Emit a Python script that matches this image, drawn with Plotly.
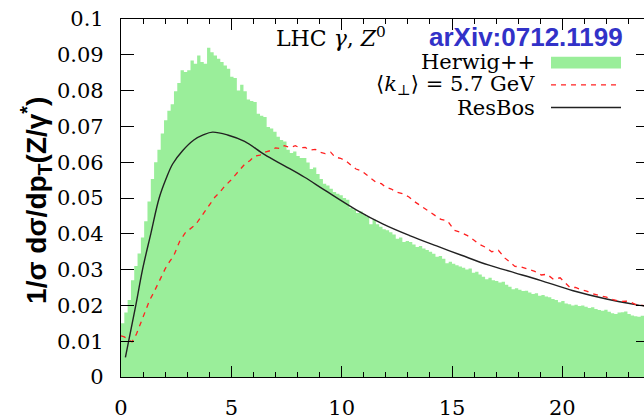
import plotly.graph_objects as go

# ---------------- data ----------------
bin_width = 0.15
herwig = [
    0.0150, 0.0180, 0.0215, 0.0270, 0.0310, 0.0345, 0.0390, 0.0435, 0.0490, 0.0553,
    0.0600, 0.0635, 0.0680, 0.0717, 0.0744, 0.0762, 0.0798, 0.0821, 0.0857, 0.0852,
    0.0857, 0.0884, 0.0875, 0.0898, 0.0880, 0.0875, 0.0920, 0.0907, 0.0898, 0.0889,
    0.0880, 0.0870, 0.0861, 0.0839, 0.0835, 0.0800, 0.0816, 0.0798, 0.0775, 0.0771,
    0.0768, 0.0735, 0.0730, 0.0726, 0.0698, 0.0694, 0.0685, 0.0671, 0.0662, 0.0658,
    0.0635, 0.0626, 0.0630, 0.0617, 0.0612, 0.0612, 0.0599, 0.0581, 0.0585, 0.0567,
    0.0553, 0.0540, 0.0535, 0.0526, 0.0517, 0.0512, 0.0508, 0.0500, 0.0495, 0.0472,
    0.0468, 0.0458, 0.0462, 0.0454, 0.0448, 0.0427, 0.0440, 0.0427, 0.0420, 0.0413,
    0.0410, 0.0404, 0.0398, 0.0386, 0.0390, 0.0377, 0.0380, 0.0377, 0.0370, 0.0363,
    0.0366, 0.0359, 0.0355, 0.0350, 0.0344, 0.0336, 0.0338, 0.0330, 0.0318, 0.0322,
    0.0316, 0.0312, 0.0309, 0.0305, 0.0300, 0.0303, 0.0291, 0.0294, 0.0286, 0.0280,
    0.0273, 0.0277, 0.0270, 0.0268, 0.0264, 0.0266, 0.0258, 0.0252, 0.0245, 0.0248,
    0.0244, 0.0240, 0.0241, 0.0236, 0.0232, 0.0234, 0.0227, 0.0229, 0.0225, 0.0223,
    0.0218, 0.0215, 0.0209, 0.0212, 0.0205, 0.0203, 0.0200, 0.0202, 0.0198, 0.0200,
    0.0196, 0.0193, 0.0195, 0.0190, 0.0187, 0.0185, 0.0188, 0.0182, 0.0178, 0.0176,
    0.0180, 0.0181, 0.0183, 0.0176, 0.0172, 0.0170, 0.0168, 0.0171, 0.0166, 0.0165,
]

kperp_x = [0.0, 0.15, 0.3, 0.5, 0.7, 0.9, 1.1, 1.3, 1.5, 1.75, 2.0, 2.2, 2.4, 2.65, 2.9,
           3.1, 3.4, 3.6, 3.8, 4.0, 4.25, 4.5, 4.7, 4.95, 5.15, 5.4, 5.6, 5.85, 6.05, 6.3,
           6.5, 6.75, 7.0, 7.2, 7.4, 7.65, 7.9, 8.1, 8.35, 8.55, 8.8, 9.0, 9.25, 9.5, 9.7,
           9.95, 10.2, 10.45, 10.65, 10.9, 11.1, 11.35, 11.55, 11.8, 12.0, 12.25, 12.5,
           12.75, 13.05, 13.3, 13.55, 13.8, 14.0, 14.25, 14.5, 14.8, 15.1, 15.35, 15.7,
           16.0, 16.2, 16.5, 16.8, 17.1, 17.4, 17.6, 17.85, 18.1, 18.3, 18.75, 19.05,
           19.3, 19.6, 19.9, 20.35, 20.6, 20.8, 21.1, 21.4, 21.7, 22.0, 22.3, 22.6, 22.9,
           23.1, 23.3, 23.55, 23.8, 24.0]
kperp_y = [0.0115, 0.0112, 0.0105, 0.0098, 0.0120, 0.0152, 0.0185, 0.0215, 0.0238, 0.0272,
           0.0302, 0.0322, 0.0340, 0.0378, 0.0402, 0.0412, 0.0427, 0.0445, 0.0463, 0.0480,
           0.0502, 0.0518, 0.0533, 0.0548, 0.0563, 0.0580, 0.0594, 0.0605, 0.0617, 0.0620,
           0.0628, 0.0632, 0.0640, 0.0638, 0.0646, 0.0641, 0.0646, 0.0640, 0.0641, 0.0634,
           0.0636, 0.0628, 0.0624, 0.0628, 0.0614, 0.0611, 0.0603, 0.0590, 0.0581, 0.0576,
           0.0566, 0.0556, 0.0544, 0.0540, 0.0530, 0.0525, 0.0516, 0.0512, 0.0503, 0.0490,
           0.0480, 0.0470, 0.0462, 0.0450, 0.0440, 0.0436, 0.0410, 0.0405, 0.0395, 0.0382,
           0.0372, 0.0363, 0.0350, 0.0354, 0.0332, 0.0322, 0.0309, 0.0308, 0.0304, 0.0295,
           0.0285, 0.0287, 0.0273, 0.0277, 0.0250, 0.0250, 0.0245, 0.0240, 0.0232, 0.0228,
           0.0223, 0.0216, 0.0211, 0.0212, 0.0209, 0.0203, 0.0200, 0.0198, 0.0197]

resbos_x = [0.2, 0.67, 0.975, 1.35, 1.73, 2.05, 2.34, 2.79, 3.3, 3.75, 4.15, 4.83, 5.6,
            6.51, 7.41, 8.32, 9.23, 10.66, 11.88, 13.08, 14.3, 15.43, 16.64, 17.85,
            19.0, 20.49, 22.0, 23.52, 24.0]
resbos_y = [0.0055, 0.0200, 0.0300, 0.0400, 0.0500, 0.0555, 0.0595, 0.0632, 0.0662,
            0.0677, 0.0684, 0.0676, 0.0658, 0.0621, 0.0590, 0.0558, 0.0522, 0.0467,
            0.0427, 0.0395, 0.0366, 0.0340, 0.0313, 0.0291, 0.0270, 0.0241, 0.0218,
            0.0200, 0.0195]

legend_labels = ["Herwig++", "⟨<i>k</i><sub>⊥</sub>⟩ = 5.7 GeV", "ResBos"]
title_text = "LHC <i>γ</i>, <i>Z</i><sup>0</sup>"
ref_text = "<b>arXiv:0712.1199</b>"
ytitle = "<b>1/σ dσ/dp<sub>T</sub>(Z/γ<sup>*</sup>)</b>"

# ---------------- figure ----------------
GREEN = "rgb(154,238,154)"
RED = "#ff2020"
BLACK = "#222222"
edges = [i * bin_width for i in range(len(herwig) + 1)]
hist_y = herwig + [herwig[-1]]

fig = go.Figure()
fig.add_trace(go.Scatter(x=edges, y=hist_y, mode="lines", line=dict(shape="hv", width=0, color=GREEN),
                         fill="tozeroy", fillcolor=GREEN, showlegend=False, hoverinfo="skip"))
fig.add_trace(go.Scatter(x=resbos_x, y=resbos_y, mode="lines",
                         line=dict(color=BLACK, width=1.4, shape="spline", smoothing=1.0),
                         showlegend=False))
fig.add_trace(go.Scatter(x=kperp_x, y=kperp_y, mode="lines",
                         line=dict(color=RED, width=1.3, dash="5px,5px"),
                         showlegend=False))
# invisible trace to activate right-hand tick axis
fig.add_trace(go.Scatter(x=[0], y=[0], yaxis="y2", mode="markers", marker=dict(opacity=0),
                         showlegend=False, hoverinfo="skip"))

serif = "DejaVu Serif"
W, H = 644, 420
L, R, T, B = 121, 0, 19, 33
pw, ph = W - L - R, H - T - B

def px2x(px):
    return (px - L) / pw

def px2y(py):
    return (H - B - py) / ph

fig.update_layout(
    width=W, height=H,
    margin=dict(l=L, r=R, t=T, b=B, pad=0),
    paper_bgcolor="white", plot_bgcolor="white",
    showlegend=False,
    font=dict(family=serif, size=21, color="black"),
)
fig.update_xaxes(range=[0, 23.7], showgrid=False, zeroline=False, showline=True,
                 linecolor="black", linewidth=1.2, mirror="ticks",
                 ticks="inside", ticklen=11, tickwidth=1.2, tickcolor="black",
                 dtick=5, tick0=0, ticklabelstandoff=12,
                 minor=dict(dtick=1, ticks="inside", ticklen=5, tickwidth=1, tickcolor="black"),
                 tickfont=dict(family=serif, size=21))
fig.update_layout(
    yaxis=dict(range=[0, 0.1], showgrid=False, zeroline=False, showline=True,
               linecolor="black", linewidth=1.2, mirror=False,
               ticks="inside", ticklen=13, tickwidth=1.2, tickcolor="black",
               dtick=0.01, tick0=0, ticklabelstandoff=12,
               tickfont=dict(family=serif, size=21)),
    yaxis2=dict(range=[0, 0.1], overlaying="y", side="right", showgrid=False,
                zeroline=False, showline=False, showticklabels=False,
                ticks="inside", ticklen=8, tickwidth=1.2, tickcolor="black",
                dtick=0.01, tick0=0),
)

ann = []
ann.append(dict(text=ytitle, xref="paper", yref="paper", x=px2x(36), y=px2y(206),
                textangle=-90, showarrow=False, xanchor="center", yanchor="middle",
                font=dict(family="Liberation Sans", size=28, color="black")))
ann.append(dict(text=title_text, xref="paper", yref="paper", x=px2x(331), y=px2y(37),
                showarrow=False, xanchor="center", yanchor="middle",
                font=dict(family=serif, size=22, color="black")))
ann.append(dict(text=ref_text, xref="paper", yref="paper", x=px2x(526), y=px2y(37),
                showarrow=False, xanchor="center", yanchor="middle",
                font=dict(family="Liberation Sans", size=26, color="rgb(50,50,200)")))
rows = [63.3, 86.7, 110]
for lab, ry in zip(legend_labels, rows):
    ann.append(dict(text=lab, xref="paper", yref="paper", x=px2x(537), y=px2y(ry),
                    showarrow=False, xanchor="right", yanchor="middle",
                    font=dict(family=serif, size=21, color="black")))
fig.update_layout(annotations=ann)

shapes = [
    dict(type="rect", xref="paper", yref="paper", x0=px2x(551), x1=px2x(621),
         y0=px2y(70), y1=px2y(57.7), fillcolor=GREEN, line=dict(width=0)),
    dict(type="line", xref="paper", yref="paper", x0=px2x(551), x1=px2x(621),
         y0=px2y(rows[1]), y1=px2y(rows[1]), line=dict(color=RED, width=1.3, dash="5px,5px")),
    dict(type="line", xref="paper", yref="paper", x0=px2x(551), x1=px2x(621),
         y0=px2y(rows[2]), y1=px2y(rows[2]), line=dict(color=BLACK, width=1.4)),
]
fig.update_layout(shapes=shapes)

fig.write_html("out.html")
